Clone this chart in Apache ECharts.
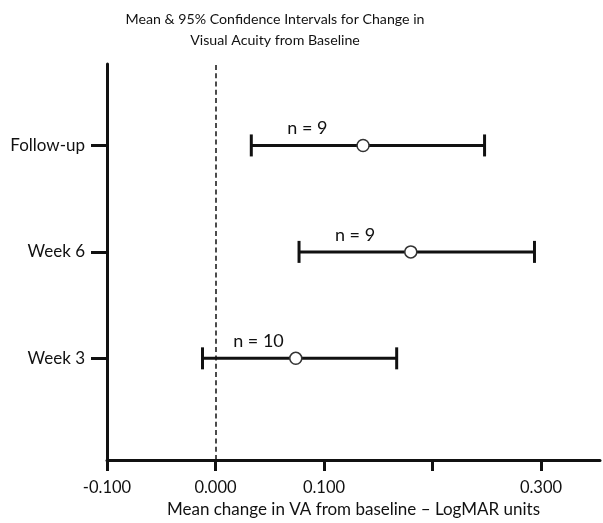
<!DOCTYPE html>
<html>
<head>
<meta charset="utf-8">
<script src="https://cdn.jsdelivr.net/npm/echarts@6/dist/echarts.min.js"></script>
<style>
  html, body { margin: 0; padding: 0; background: #fff; }
  #main { width: 603px; height: 523px; }
</style>
</head>
<body>
<div id="main"></div>
<script>
// data
var categories = ["Week 3", "Week 6", "Follow-up"];
var rowPos = [1, 2, 3];
var means = [0.074, 0.180, 0.136];
var lower = [-0.012, 0.077, 0.033];
var upper = [0.167, 0.294, 0.248];
var nValues = [10, 9, 9];
var xTickValues = [-0.1, 0, 0.1, 0.2, 0.3];
var xTickLabels = ["-0.100", "0.000", "0.100", "", "0.300"];

var font = "Lato, 'Open Sans', sans-serif";
var ink = "#111";

var rows = [];
for (var i = 0; i < categories.length; i++) {
  rows.push([lower[i], means[i], upper[i], rowPos[i], nValues[i]]);
}

var myChart = echarts.init(document.getElementById("main"));
myChart.setOption({
  animation: false,
  graphic: [
    {
      type: "text",
      x: 275,
      y: 9,
      style: {
        text: "Mean & 95% Confidence Intervals for Change in\nVisual Acuity from Baseline",
        fill: "#111",
        font: "14.2px " + font,
        align: "center",
        lineHeight: 21,
      },
    },
  ],
  grid: { left: 107, right: 3, top: 64, bottom: 62 },
  xAxis: {
    type: "value",
    min: -0.1,
    max: 0.3544,
    interval: 0.1,
    name: "Mean change in VA from baseline \u2013 LogMAR units",
    nameLocation: "middle",
    nameGap: 41,
    nameTextStyle: { color: "#111", fontSize: 17, fontFamily: font },
    splitLine: { show: false },
    axisLine: { show: true, onZero: false, lineStyle: { color: ink, width: 3 } },
    axisTick: {
      show: true,
      length: 11,
      lineStyle: { color: ink, width: 3 },
      customValues: xTickValues,
    },
    axisLabel: {
      color: "#111",
      fontSize: 16.5,
      fontFamily: font,
      margin: 19,
      customValues: xTickValues,
      formatter: function (v) {
        for (var k = 0; k < xTickValues.length; k++) {
          if (Math.abs(v - xTickValues[k]) < 1e-9) return xTickLabels[k];
        }
        return "";
      },
    },
  },
  yAxis: {
    type: "value",
    min: 0.045,
    max: 3.765,
    splitLine: { show: false },
    axisLine: { show: true, onZero: false, lineStyle: { color: ink, width: 3 } },
    axisTick: {
      show: true,
      length: 16,
      lineStyle: { color: ink, width: 3 },
      customValues: rowPos,
    },
    axisLabel: {
      color: "#111",
      fontSize: 17,
      fontFamily: font,
      margin: 22,
      customValues: rowPos,
      formatter: function (v) {
        var idx = rowPos.indexOf(Math.round(v));
        return idx >= 0 ? categories[idx] : "";
      },
    },
  },
  series: [
    {
      type: "custom",
      data: rows,
      encode: { x: [0, 1, 2], y: 3 },
      renderItem: function (params, api) {
        var y = api.value(3);
        var lo = api.coord([api.value(0), y]);
        var mid = api.coord([api.value(1), y]);
        var hi = api.coord([api.value(2), y]);
        var lineStyle = { stroke: ink, lineWidth: 3 };
        return {
          type: "group",
          children: [
            { type: "line", shape: { x1: lo[0], y1: lo[1], x2: hi[0], y2: hi[1] }, style: lineStyle },
            { type: "line", shape: { x1: lo[0], y1: lo[1] - 11, x2: lo[0], y2: lo[1] + 11 }, style: lineStyle },
            { type: "line", shape: { x1: hi[0], y1: hi[1] - 11, x2: hi[0], y2: hi[1] + 11 }, style: lineStyle },
            { type: "circle", shape: { cx: mid[0], cy: mid[1], r: 6 }, style: { fill: "#fff", stroke: "#333", lineWidth: 1.5 } },
            {
              type: "text",
              x: lo[0] + 56,
              y: lo[1] - 17,
              style: {
                text: "n = " + api.value(4),
                fill: "#111",
                font: "18px " + font,
                align: "center",
                verticalAlign: "middle",
              },
            },
          ],
        };
      },
      markLine: {
        silent: true,
        symbol: "none",
        label: { show: false },
        lineStyle: { color: ink, type: [5, 3.3], width: 1.5 },
        data: [{ xAxis: 0 }],
      },
    },
  ],
});
</script>
</body>
</html>
